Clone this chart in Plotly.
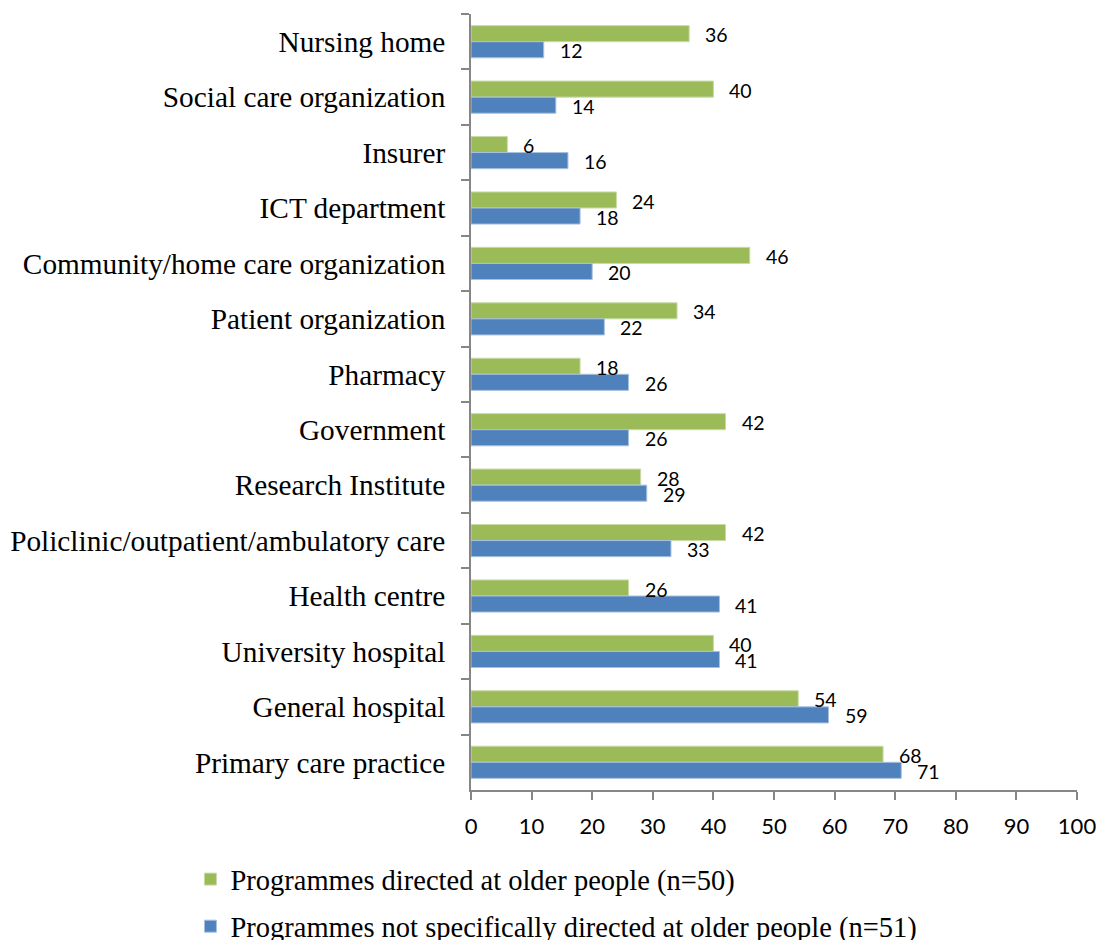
import plotly.graph_objects as go

categories = [
    "Nursing home",
    "Social care organization",
    "Insurer",
    "ICT department",
    "Community/home care organization",
    "Patient organization",
    "Pharmacy",
    "Government",
    "Research Institute",
    "Policlinic/outpatient/ambulatory care",
    "Health centre",
    "University hospital",
    "General hospital",
    "Primary care practice",
]
older = [36, 40, 6, 24, 46, 34, 18, 42, 28, 42, 26, 40, 54, 68]
not_older = [12, 14, 16, 18, 20, 22, 26, 26, 29, 33, 41, 41, 59, 71]
name_older = "Programmes directed at older people (n=50)"
name_not = "Programmes not specifically directed at older people (n=51)"
x_ticks = [0, 10, 20, 30, 40, 50, 60, 70, 80, 90, 100]

GREEN = "#9BBB59"
BLUE = "#4F81BD"
AXIS = "#868686"
SERIF = "Liberation Serif, Times New Roman, serif"
SANS = "Lato, Open Sans, sans-serif"

fig = go.Figure()
fig.add_trace(go.Bar(
    y=categories, x=older, orientation="h", name=name_older,
    marker=dict(color=GREEN, line=dict(color="#C9DBA6", width=1)),
    legendgroup="a",
))
fig.add_trace(go.Bar(
    y=categories, x=not_older, orientation="h", name=name_not,
    marker=dict(color=BLUE, line=dict(color="#A7C0DE", width=1)),
    legendgroup="b",
))

annotations = []
for cat, v in zip(categories, older):
    annotations.append(dict(x=v, y=cat, xref="x", yref="y", text=str(v),
                            showarrow=False, xanchor="left", yanchor="middle",
                            xshift=14, yshift=7,
                            font=dict(family=SANS, size=19.5, color="#000000")))
for cat, v in zip(categories, not_older):
    annotations.append(dict(x=v, y=cat, xref="x", yref="y", text=str(v),
                            showarrow=False, xanchor="left", yanchor="middle",
                            xshift=14, yshift=-9,
                            font=dict(family=SANS, size=19.5, color="#000000")))

# the page body adds an 8px offset; margins compensate for it
fig.update_layout(
    width=1104, height=940,
    margin=dict(l=463, r=35, t=6, b=158, autoexpand=False),
    paper_bgcolor="white", plot_bgcolor="white",
    barmode="group", bargap=0.42, bargroupgap=0,
    annotations=annotations,
    showlegend=True,
    legend=dict(
        orientation="v", x=-0.463, xanchor="left", y=-0.0826, yanchor="top",
        font=dict(family=SERIF, size=28.5, color="#000000"),
        tracegroupgap=7, traceorder="grouped",
        bgcolor="rgba(0,0,0,0)",
    ),
    xaxis=dict(
        range=[0, 100], tickvals=x_ticks, ticktext=[str(t) for t in x_ticks],
        showgrid=False, zeroline=False, automargin=False,
        showline=True, linecolor=AXIS, linewidth=1.5,
        ticks="outside", ticklen=8, tickcolor=AXIS, tickwidth=1.5,
        ticklabelstandoff=8,
        tickfont=dict(family=SANS, size=22, color="#000000"),
        fixedrange=True,
    ),
    yaxis=dict(
        autorange="reversed",
        categoryorder="array", categoryarray=categories,
        showgrid=False, zeroline=False, automargin=False,
        showline=True, linecolor=AXIS, linewidth=1.5,
        ticks="outside", ticklen=8, tickcolor=AXIS, tickwidth=1.5,
        tickson="boundaries", ticklabelstandoff=18,
        tickfont=dict(family=SERIF, size=29.3, color="#000000"),
        fixedrange=True,
    ),
)

fig.write_html("out.html")
